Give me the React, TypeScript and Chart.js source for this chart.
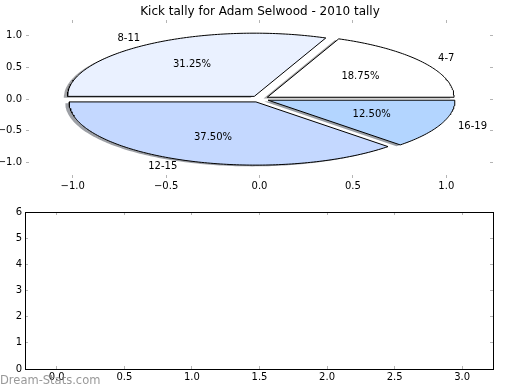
import React, { useEffect, useRef } from 'react';
import { Chart, registerables } from 'chart.js';

Chart.register(...registerables);

const chartTitle = 'Kick tally for Adam Selwood - 2010 tally';
const categories = ['4-7', '8-11', '12-15', '16-19'];
const kicks = [3, 5, 6, 2];
const sliceColors = ['#ffffff', '#eaf1ff', '#c4d8ff', '#b3d5ff'];
const explode = [0.05, 0.05, 0.05, 0.05];
const pieXTicks = [-1, -0.5, 0, 0.5, 1];
const pieYTicks = [-1, -0.5, 0, 0.5, 1];
const lowerXTicks = [0, 0.5, 1, 1.5, 2, 2.5, 3];
const lowerYTicks = [0, 1, 2, 3, 4, 5, 6];
const watermark = 'Dream-Stats.com';

const FONT = '"DejaVu Sans", Verdana, sans-serif';
const TICK_GRAY = '#b4b4b4';

type Pt = { x: number; y: number };

function buildWedges() {
  const total = kicks.reduce((a, b) => a + b, 0);
  let start = 0;
  return kicks.map((v, i) => {
    const sweep = (v / total) * 360;
    const t1 = start;
    start += sweep;
    const mid = ((t1 + sweep / 2) * Math.PI) / 180;
    const cx = explode[i] * Math.cos(mid);
    const cy = explode[i] * Math.sin(mid);
    const pts: Pt[] = [{ x: cx, y: cy }];
    const n = Math.max(4, Math.ceil(sweep));
    for (let k = 0; k <= n; k++) {
      const a = ((t1 + (sweep * k) / n) * Math.PI) / 180;
      pts.push({ x: cx + Math.cos(a), y: cy + Math.sin(a) });
    }
    pts.push({ x: cx, y: cy });
    return { pts, mid, cx, cy, pct: (v / total) * 100 };
  });
}

function shadowOf(hex: string) {
  const r = parseInt(hex.slice(1, 3), 16);
  const g = parseInt(hex.slice(3, 5), 16);
  const b = parseInt(hex.slice(5, 7), 16);
  return `rgba(${Math.round(r * 0.3)},${Math.round(g * 0.3)},${Math.round(b * 0.3)},0.5)`;
}

const fmt1 = (v: number) => (v < 0 ? '\u2212' : '') + Math.abs(v).toFixed(1);

function tickAxis(opts: any) {
  const { position, min, max, values, show, size, pad, format, border } = opts;
  return {
    type: 'linear',
    position,
    min,
    max,
    afterBuildTicks: (s: any) => {
      s.ticks = values.map((v: number) => ({ value: v }));
    },
    afterFit: (s: any) => {
      if (position === 'top' || position === 'bottom') s.height = size;
      else s.width = size;
    },
    ticks: {
      display: show,
      padding: pad,
      color: '#000',
      font: { family: FONT, size: 10 },
      autoSkip: false,
      maxRotation: 0,
      callback: (v: any) => format(Number(v)),
    },
    grid: {
      display: true,
      drawOnChartArea: false,
      drawTicks: true,
      tickLength: -3,
      color: TICK_GRAY,
      lineWidth: 1,
    },
    border: border
      ? { display: true, color: '#000', width: 1 }
      : { display: false },
  };
}

export default function App() {
  const pieRef = useRef<HTMLCanvasElement>(null);
  const lowRef = useRef<HTMLCanvasElement>(null);

  useEffect(() => {
    document.body.style.margin = '0';
    const wedges = buildWedges();

    const datasets: any[] = [];
    wedges.forEach((w, i) => {
      datasets.push({
        label: categories[i],
        data: w.pts,
        showLine: true,
        fill: 'shape',
        backgroundColor: sliceColors[i],
        borderColor: '#000',
        borderWidth: 1,
        pointRadius: 0,
        tension: 0,
        order: 4 - i,
      });
    });
    wedges.forEach((w, i) => {
      datasets.push({
        label: categories[i] + ' shadow',
        data: w.pts.map((p) => ({ x: p.x - 0.02, y: p.y - 0.02 })),
        showLine: true,
        fill: 'shape',
        backgroundColor: shadowOf(sliceColors[i]),
        borderColor: 'rgba(0,0,0,0)',
        borderWidth: 1,
        pointRadius: 0,
        tension: 0,
        order: 20 - i,
      });
    });

    const labelPlugin = {
      id: 'pieLabels',
      afterDatasetsDraw(chart: any) {
        const { ctx, scales } = chart;
        const sx = scales.x;
        const sy = scales.y;
        ctx.save();
        ctx.font = `10px ${FONT}`;
        ctx.fillStyle = '#000';
        ctx.textBaseline = 'middle';
        wedges.forEach((w, i) => {
          const lx = w.cx + 1.1 * Math.cos(w.mid);
          const ly = w.cy + 1.1 * Math.sin(w.mid);
          ctx.textAlign = lx < 0 ? 'right' : 'left';
          ctx.fillText(categories[i], sx.getPixelForValue(lx), sy.getPixelForValue(ly));
          const px = w.cx + 0.6 * Math.cos(w.mid);
          const py = w.cy + 0.6 * Math.sin(w.mid);
          ctx.textAlign = 'center';
          ctx.fillText(w.pct.toFixed(2) + '%', sx.getPixelForValue(px), sy.getPixelForValue(py));
        });
        ctx.restore();
      },
    };

    const pie = new Chart(pieRef.current as HTMLCanvasElement, {
      type: 'scatter',
      data: { datasets },
      plugins: [labelPlugin],
      options: {
        responsive: false,
        animation: false,
        events: [],
        layout: { padding: 0 },
        plugins: {
          legend: { display: false },
          tooltip: { enabled: false },
          title: {
            display: true,
            text: chartTitle,
            color: '#000',
            font: { family: FONT, size: 12, weight: 'normal', lineHeight: 1.2 },
            padding: { top: 4.6, bottom: 1 },
          },
        },
        scales: {
          x: tickAxis({ position: 'bottom', min: -1.25, max: 1.25, values: pieXTicks, show: true, size: 22, pad: 5.5, format: fmt1, border: false }),
          x2: tickAxis({ position: 'top', min: -1.25, max: 1.25, values: pieXTicks, show: false, size: 0, pad: 0, format: fmt1, border: false }),
          y: tickAxis({ position: 'left', min: -1.25, max: 1.25, values: pieYTicks, show: true, size: 26, pad: 7, format: fmt1, border: false }),
          y2: tickAxis({ position: 'right', min: -1.25, max: 1.25, values: pieYTicks, show: false, size: 27, pad: 0, format: fmt1, border: false }),
        } as any,
      } as any,
    });

    const low = new Chart(lowRef.current as HTMLCanvasElement, {
      type: 'scatter',
      data: { datasets: [{ label: 'empty', data: [] }] },
      options: {
        responsive: false,
        animation: false,
        events: [],
        layout: { padding: 0 },
        plugins: { legend: { display: false }, tooltip: { enabled: false } },
        scales: {
          x: tickAxis({ position: 'bottom', min: -0.235, max: 3.228, values: lowerXTicks, show: true, size: 21, pad: 5, format: (v: number) => v.toFixed(1), border: true }),
          x2: tickAxis({ position: 'top', min: -0.235, max: 3.228, values: lowerXTicks, show: false, size: 10, pad: 0, format: (v: number) => v.toFixed(1), border: true }),
          y: tickAxis({ position: 'left', min: 0, max: 6, values: lowerYTicks, show: true, size: 25, pad: 6, format: (v: number) => String(v), border: true }),
          y2: tickAxis({ position: 'right', min: 0, max: 6, values: lowerYTicks, show: false, size: 27, pad: 0, format: (v: number) => String(v), border: true }),
        } as any,
      } as any,
    });

    return () => {
      pie.destroy();
      low.destroy();
    };
  }, []);

  return (
    <div style={{ position: 'relative', width: 520, height: 390, background: '#fff', overflow: 'hidden' }}>
      <canvas ref={pieRef} width={520} height={200} style={{ position: 'absolute', left: 0, top: 0, display: 'block' }} />
      <canvas ref={lowRef} width={520} height={190} style={{ position: 'absolute', left: 0, top: 200, display: 'block' }} />
      <span
        style={{
          position: 'absolute',
          left: 0,
          top: 373,
          fontFamily: FONT,
          fontSize: 11.5,
          lineHeight: '14px',
          color: 'rgba(128,128,128,0.8)',
          whiteSpace: 'nowrap',
        }}
      >
        {watermark}
      </span>
    </div>
  );
}
